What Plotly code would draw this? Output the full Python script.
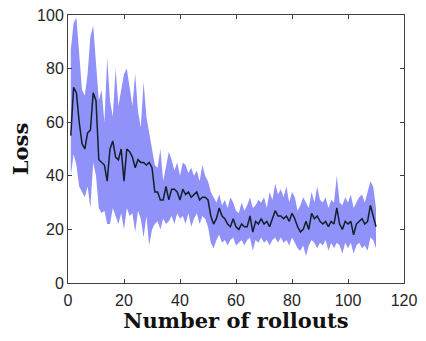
import plotly.graph_objects as go

rollouts = list(range(1, 111))
loss_mean = [55, 73, 71, 60, 52, 50, 56, 57, 71, 68,
             46, 45, 44, 38, 50, 53, 47, 46, 50, 38,
             50, 49, 47, 43, 46, 45, 45, 44, 45, 43,
             34, 34, 31, 31, 36, 31, 35, 35, 34, 31,
             35, 33, 34, 32, 33, 34, 31, 32, 32, 31,
             25, 22, 24, 28, 25, 24, 22, 21, 24, 21,
             20, 22, 21, 21, 25, 19, 23, 22, 24, 22,
             23, 21, 24, 27, 25, 25, 24, 25, 23, 26,
             24, 21, 19, 20, 23, 20, 26, 24, 25, 23,
             22, 23, 21, 23, 22, 28, 22, 20, 23, 22,
             23, 18, 22, 23, 24, 22, 23, 29, 25, 21]
loss_upper = [87, 97, 99, 85, 72, 70, 78, 92, 96, 82,
              68, 72, 60, 84, 68, 62, 80, 66, 72, 78,
              80, 72, 66, 78, 64, 58, 75, 62, 56, 50,
              44, 43, 50, 38, 44, 49, 46, 42, 45, 40,
              45, 44, 41, 43, 40, 42, 38, 44, 40, 38,
              34, 32, 30, 33, 29, 31, 28, 32, 30, 27,
              26, 30, 27, 29, 32, 28, 29, 31, 30, 32,
              28, 34, 31, 37, 33, 35, 32, 36, 30, 34,
              32, 27, 29, 32, 30, 28, 34, 30, 36, 31,
              30, 32, 28, 31, 30, 40, 30, 29, 32, 30,
              33, 28, 30, 32, 33, 30, 34, 38, 36, 28]
loss_lower = [40, 48, 44, 36, 34, 32, 36, 28, 45, 40,
              28, 26, 27, 22, 22, 28, 25, 22, 26, 20,
              28, 25, 26, 19, 27, 24, 17, 25, 14, 20,
              22, 23, 20, 24, 22, 23, 25, 22, 26, 24,
              25, 22, 26, 21, 24, 26, 22, 25, 24, 21,
              15, 13, 16, 18, 15, 16, 14, 16, 17, 14,
              15, 16, 14, 16, 17, 12, 16, 15, 17, 15,
              16, 14, 16, 17, 15, 17, 15, 16, 14, 17,
              15, 13, 12, 14, 10, 14, 16, 15, 13, 15,
              14, 16, 12, 15, 13, 15, 14, 11, 15, 13,
              15, 11, 14, 15, 13, 14, 12, 17, 16, 13]

x_ticks = [0, 20, 40, 60, 80, 100, 120]
y_ticks = [0, 20, 40, 60, 80, 100]

band_color = "rgb(145,145,250)"

fig = go.Figure()
fig.add_trace(go.Scatter(x=rollouts, y=loss_upper, mode="lines",
                         line=dict(width=0, color=band_color),
                         showlegend=False, hoverinfo="skip"))
fig.add_trace(go.Scatter(x=rollouts, y=loss_lower, mode="lines",
                         line=dict(width=0, color=band_color),
                         fill="tonexty", fillcolor=band_color,
                         showlegend=False, hoverinfo="skip"))
fig.add_trace(go.Scatter(x=rollouts, y=loss_mean, mode="lines",
                         line=dict(width=1.5, color="#13202c"),
                         showlegend=False))

axis_common = dict(showline=True, linecolor="#404040", linewidth=1, mirror="ticks",
                   ticks="inside", ticklen=4, tickcolor="#404040",
                   showgrid=False, zeroline=False, automargin=False,
                   ticklabeloverflow="allow",
                   tickfont=dict(family="Liberation Sans, Arial, sans-serif", size=16, color="#262626"))

# page body has an 8px margin; figure sized to the visible area
fig.update_layout(
    width=410, height=325,
    margin=dict(l=60, r=14, t=7, b=50),
    paper_bgcolor="white", plot_bgcolor="white",
    xaxis=dict(range=[0, 120], tickvals=x_ticks, ticklabelstandoff=3,
               title=dict(text="<b>Number of rollouts</b>", standoff=22,
                          font=dict(family="DejaVu Serif, serif", size=21, color="#111")),
               **axis_common),
    yaxis=dict(range=[0, 100], tickvals=y_ticks,
               title=dict(text="<b>Loss</b>", standoff=15,
                          font=dict(family="DejaVu Serif, serif", size=21, color="#111")),
               **axis_common),
)

fig.write_html("out.html")
